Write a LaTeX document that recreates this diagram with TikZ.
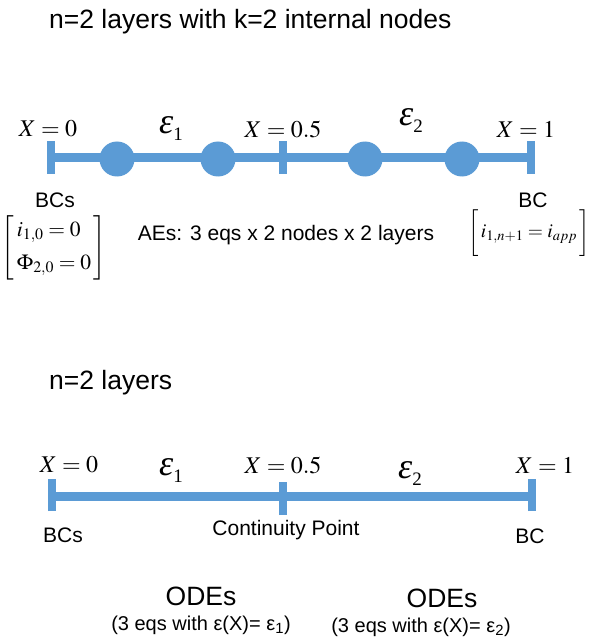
\documentclass[tikz,border=0pt]{standalone}
\usepackage{mathptmx}
\usepackage[no-math]{fontspec}
\setmainfont{Liberation Sans}
\newfontfamily\tnr{Liberation Serif}
\newcommand{\epslab}[1]{{\tnr\itshape ε}\raisebox{-7pt}{\tnr\fontsize{19}{19}\selectfont #1}}
\definecolor{lineblue}{HTML}{5B9BD5}
\begin{document}
\begin{tikzpicture}[x=1pt,y=-1pt,
  bar/.style={draw=lineblue,line width=9pt},
  tickmark/.style={draw=lineblue,line width=8.5pt},
  dot/.style={circle,fill=lineblue,minimum size=35pt,inner sep=0pt},
  xlab/.style={font=\fontsize{24}{28}\selectfont,inner sep=0pt},
  elab/.style={font=\fontsize{36}{40}\selectfont,inner sep=0pt},
  txt/.style={font=\fontsize{21}{24}\selectfont,inner sep=0pt},
  smalltxt/.style={font=\fontsize{20}{24}\selectfont,inner sep=0pt},
  bigtxt/.style={font=\fontsize{26.5}{30}\selectfont,inner sep=0pt},
  mat/.style={font=\fontsize{21.5}{25}\selectfont,inner sep=0pt}]
\useasboundingbox (0,0) rectangle (589,639);
% title
\node[bigtxt,anchor=west] (title) at (49,22) {n=2 layers with k=2 internal nodes};
% top line
\coordinate (a0) at (51,158);
\coordinate (a1) at (283,158);
\coordinate (a2) at (531,158);
\draw[bar] (a0) -- (a2);
\draw[tickmark] ([yshift=-16]a0) -- ([yshift=17]a0);
\draw[tickmark] ([yshift=-16]a1) -- ([yshift=17]a1);
\draw[tickmark] ([yshift=-16]a2) -- ([yshift=17]a2);
\node[dot] (n1) at (117,159) {};
\node[dot] (n2) at (218,159) {};
\node[dot] (n3) at (365,159) {};
\node[dot] (n4) at (462,159) {};
\node[xlab] (x0) at (48,129) {$X=0$};
\node[elab] (e1) at (171,129) {\epslab{1}};
\node[xlab] (x05) at (283,129) {$X=0.5$};
\node[elab] (e2) at (411,121) {\epslab{2}};
\node[xlab] (x1) at (526,129) {$X=1$};
\node[txt] (bcs) at (55,200) {BCs};
\node[mat] (m1) at (54,248) {$\left[\begin{array}{@{\,}l@{\,}} i_{1,0}=0\\[8pt] \Phi_{2,0}=0\end{array}\right]$};
\node[txt] (aes) at (286,235) {AEs: 3 eqs x 2 nodes x 2 layers};
\node[txt] (bc) at (533,200) {BC};
\node[mat,font=\fontsize{19.5}{24}\selectfont] (m2) at (529,233) {$\biggl[\,i_{1,n+1}=i_{app}\,\biggr]$};
% second diagram
\node[bigtxt,anchor=west] (title2) at (49,383) {n=2 layers};
\coordinate (b0) at (52,496);
\coordinate (b1) at (283,496);
\coordinate (b2) at (532,496);
\draw[bar] (b0) -- (b2);
\draw[tickmark] ([yshift=-15]b0) -- ([yshift=17]b0);
\draw[tickmark] ([yshift=-19]b1) -- ([yshift=14]b1);
\draw[tickmark] ([yshift=-15]b2) -- ([yshift=17]b2);
\node[xlab] (y0) at (69,465) {$X=0$};
\node[elab] (f1) at (171,471) {\epslab{1}};
\node[xlab] (y05) at (283,465) {$X=0.5$};
\node[elab] (f2) at (410,474) {\epslab{2}};
\node[xlab] (y1) at (545,465) {$X=1$};
\node[txt] (bcs2) at (63,535) {BCs};
\node[txt] (cp) at (286,530) {Continuity Point};
\node[txt] (bc2) at (530,536) {BC};
\node[bigtxt] (ode1) at (201,596) {ODEs};
\node[smalltxt] (ode1b) at (201,625) {(3 eqs with ε(X)= ε\textsubscript{1})};
\node[bigtxt] (ode2) at (442,598) {ODEs};
\node[smalltxt] (ode2b) at (421,627) {(3 eqs with ε(X)= ε\textsubscript{2})};
\end{tikzpicture}
\end{document}
